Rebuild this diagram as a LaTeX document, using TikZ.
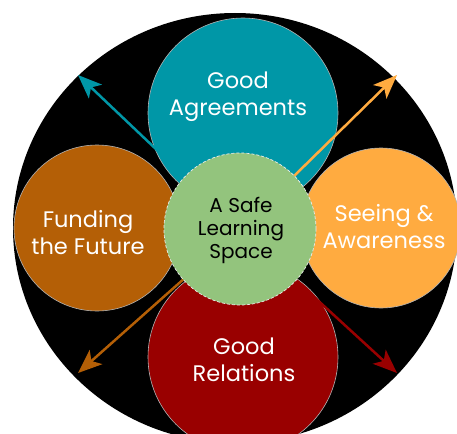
\documentclass[tikz,border=0pt]{standalone}
\usepackage{fontspec}
\setmainfont{Poppins}
\usetikzlibrary{arrows.meta}

\definecolor{agreeteal}{HTML}{0097A7}
\definecolor{fundbrown}{HTML}{B45F06}
\definecolor{seeorange}{HTML}{FFAB40}
\definecolor{relred}{HTML}{990000}
\definecolor{safegreen}{HTML}{93C47D}

\begin{document}
\begin{tikzpicture}[x=1pt, y=-1pt]
    \tikzstyle{bubble} = [draw=gray!60, line width=0.6pt]
    \tikzstyle{spoke} = [line width=2.5pt, -{Stealth[length=24pt, width=19pt, inset=6pt]}]
    \tikzstyle{bigtext} = [text=white, align=center, font=\fontsize{22.5}{27}\selectfont]
    \clip (0, 0) rectangle (457, 433);
    \fill[white] (0, 0) rectangle (457, 433);
    \fill[black] (235, 228) ellipse[x radius=222pt, y radius=215pt];
    % the four petals
    \draw[bubble, fill=agreeteal] (243, 113) circle[radius=95pt];
    \draw[bubble, fill=relred] (243, 357) circle[radius=95pt];
    \draw[bubble, fill=fundbrown] (97, 228) circle[radius=83pt];
    \draw[bubble, fill=seeorange] (381, 228) circle[radius=80pt];
    % arrows out of the middle
    \coordinate (mid) at (240, 229);
    \coordinate (tipNW) at (78, 75);
    \coordinate (tipNE) at (397, 75);
    \coordinate (tipSW) at (78, 373);
    \coordinate (tipSE) at (397, 373);
    \draw[spoke, agreeteal] (mid) -- (tipNW);
    \draw[spoke, seeorange] (mid) -- (tipNE);
    \draw[spoke, fundbrown] (mid) -- (tipSW);
    \draw[spoke, relred] (mid) -- (tipSE);
    \draw[fill=safegreen, draw=white!85!gray, line width=0.7pt, dash pattern=on 3pt off 2pt] (mid) circle[radius=76pt];
    \node[bigtext] (agree) at (238, 97) {Good\\Agreements};
    \node[bigtext] (fund) at (88, 233) {Funding\\the Future};
    \node[bigtext] (see) at (384, 227) {Seeing \&\\Awareness};
    \node[bigtext] (rel) at (244, 360) {Good\\Relations};
    \node[align=center, font=\fontsize{20}{23}\selectfont] (safe) at (241, 230) {A Safe\\Learning\\Space};
\end{tikzpicture}
\end{document}
